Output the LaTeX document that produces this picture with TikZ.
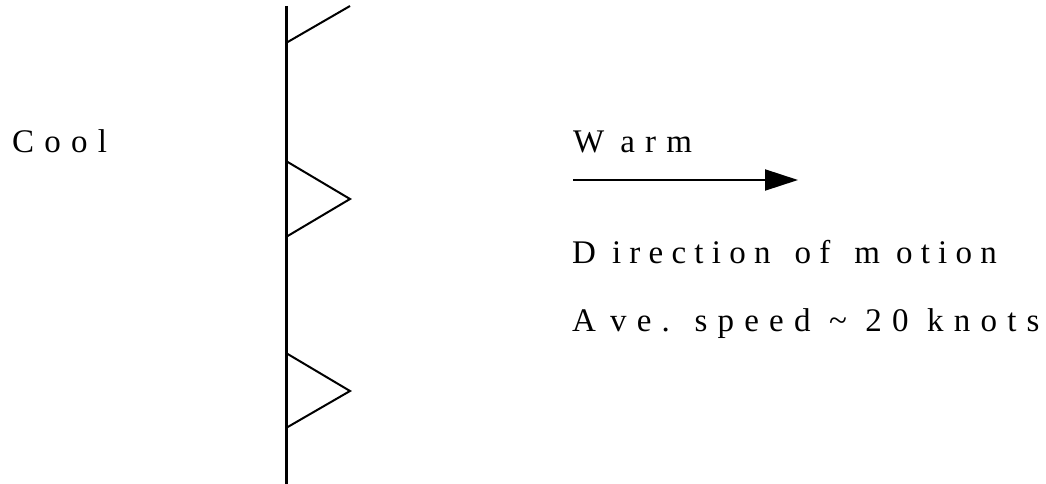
\documentclass[tikz,border=0pt]{standalone}
\usepackage{fontspec}
\setmainfont{Liberation Serif}
\usetikzlibrary{arrows.meta}

\begin{document}
\begin{tikzpicture}[x=1pt, y=-1pt,
    front/.style={line width=3pt},
    barb/.style={line width=2pt, line join=miter},
    motion/.style={-{Triangle[length=33pt, width=21pt]}, line width=2pt},
    label/.style={
      anchor = base west,
      inner sep = 0pt,
      font = \fontsize{33}{40}\selectfont\addfontfeature{LetterSpace=31},
    },
  ]
  \useasboundingbox (0,0) rectangle (1046,484);

  % warm front: line with barbs pointing right
  \draw[front] (286,6) -- (286,484);
  \draw[barb] (286,43) -- (350,6);
  \draw[barb] (286,161) -- (350,199) -- (286,237);
  \draw[barb] (286,353) -- (350,391) -- (286,428);

  \node[label] (cool) at (12,152) {Cool};
  \node[label] (warm) at (573,152) {W\kern16pt arm};

  \coordinate (tail) at (573,180);
  \coordinate (head) at (798,180);
  \draw[motion] (tail) -- (head);

  \node[label, font=\fontsize{33}{40}\selectfont\addfontfeature{LetterSpace=25}]
    (dir) at (572,263) {D\kern16pt irection\kern24pt of\kern24pt m\kern16pt otion};
  \node[label] (speed) at (572,331) {A\kern14pt ve. speed \textasciitilde{} 20 knots};
\end{tikzpicture}
\end{document}
